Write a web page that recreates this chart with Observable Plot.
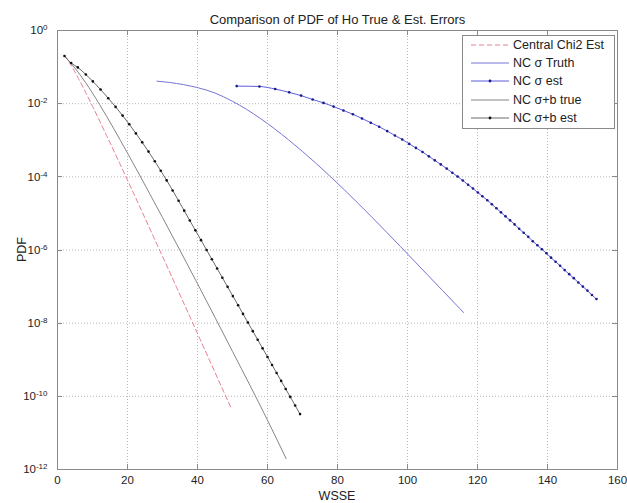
<!DOCTYPE html>
<html><head><meta charset="utf-8">
<script src="https://cdn.jsdelivr.net/npm/d3@7"></script>
<script src="https://cdn.jsdelivr.net/npm/@observablehq/plot@0.6"></script>
<style>
body{margin:0;background:#fff;}
svg{font-family:"Liberation Sans",Arial,sans-serif;}
</style>
</head><body><div id="chart"></div>
<script>
const title = "Comparison of PDF of Ho True & Est. Errors";
const xLabel = "WSSE";
const yLabel = "PDF";
const xTicks = [0, 20, 40, 60, 80, 100, 120, 140, 160];
const yTicks = [1, 1e-2, 1e-4, 1e-6, 1e-8, 1e-10, 1e-12];
const seriesNames = ["Central Chi2 Est", "NC σ Truth", "NC σ est", "NC σ+b true", "NC σ+b est"];

const chi2X = [2, 4, 6, 8, 10, 14, 18, 22, 26, 30, 34, 38, 42, 46, 49.6];
const chi2Pdf = [0.209, 0.108, 0.0486, 0.0207, 8.5e-3, 1.36e-3, 2.09e-4, 3.13e-5, 4.59e-6, 6.70e-7, 9.64e-8, 1.38e-8, 1.96e-9, 2.77e-10, 4.8e-11];

const truthX = [28.4, 32, 36, 40, 45, 50, 54, 58, 62, 66, 70, 74, 78, 82, 86, 90, 94, 98, 102, 106, 110, 114, 116];
const truthPdf = [4.12e-2, 3.80e-2, 3.31e-2, 2.75e-2, 1.95e-2, 1.16e-2, 7.00e-3, 3.92e-3, 2.06e-3, 1.03e-3, 4.93e-4, 2.28e-4, 1.01e-4, 4.38e-5, 1.84e-5, 7.60e-6, 3.08e-6, 1.24e-6, 4.93e-7, 1.96e-7, 7.82e-8, 3.11e-8, 1.96e-8];

const estSigX = [51.2, 57.7, 62.2, 66.2, 69.6, 72.9, 76.0, 78.9, 81.7, 84.4, 87.0, 89.5, 91.9, 94.2, 96.4, 98.5, 100.5, 102.4, 104.3, 106.1, 107.8, 109.5, 111.2, 112.8, 114.3, 115.8, 117.3, 118.7, 120.1, 121.4, 122.8, 124.1, 125.4, 126.7, 128.0, 129.3, 130.6, 131.9, 133.2, 134.5, 135.8, 137.1, 138.4, 139.7, 141.0, 142.3, 143.6, 144.9, 146.2, 147.5, 148.8, 150.1, 151.4, 152.7, 154.0];
const estSigPdf = [3.02e-2, 2.95e-2, 2.51e-2, 2.04e-2, 1.66e-2, 1.30e-2, 1.05e-2, 8.32e-3, 6.53e-3, 5.13e-3, 3.94e-3, 3.02e-3, 2.34e-3, 1.78e-3, 1.35e-3, 1.05e-3, 7.94e-4, 6.17e-4, 4.79e-4, 3.63e-4, 2.82e-4, 2.19e-4, 1.68e-4, 1.29e-4, 1.02e-4, 7.94e-5, 6.10e-5, 4.79e-5, 3.72e-5, 2.95e-5, 2.29e-5, 1.78e-5, 1.38e-5, 1.07e-5, 8.32e-6, 6.46e-6, 5.01e-6, 3.80e-6, 2.95e-6, 2.29e-6, 1.74e-6, 1.35e-6, 1.05e-6, 8.13e-7, 6.17e-7, 4.79e-7, 3.72e-7, 2.82e-7, 2.19e-7, 1.70e-7, 1.29e-7, 1.0e-7, 7.76e-8, 5.89e-8, 4.57e-8];

const sbTrueX = [2, 5, 8, 12, 16, 20, 30, 40, 50, 60, 65.3];
const sbTruePdf = [0.20, 9.33e-2, 3.80e-2, 9.55e-3, 2.13e-3, 4.45e-4, 7.73e-6, 1.20e-7, 1.69e-9, 2.23e-11, 2.0e-12];

const sbEstX = [2, 3.9, 5.8, 8.1, 10.1, 12.3, 14.5, 16.6, 18.6, 20.5, 22.4, 24.2, 26.0, 27.8, 29.5, 31.2, 32.9, 34.6, 36.2, 37.8, 39.4, 41.0, 42.6, 44.1, 45.6, 47.1, 48.6, 50.1, 51.6, 53.0, 54.4, 55.8, 57.2, 58.6, 60.0, 61.3, 62.6, 63.9, 65.2, 66.5, 67.9, 69.3];
const sbEstPdf = [0.20, 0.129, 9.8e-2, 6.27e-2, 4.06e-2, 2.43e-2, 1.41e-2, 8.17e-3, 4.72e-3, 2.73e-3, 1.54e-3, 8.77e-4, 4.89e-4, 2.67e-4, 1.47e-4, 7.98e-5, 4.25e-5, 2.21e-5, 1.19e-5, 6.40e-6, 3.44e-6, 1.86e-6, 1.00e-6, 5.60e-7, 3.13e-7, 1.75e-7, 9.82e-8, 5.50e-8, 3.08e-8, 1.79e-8, 1.04e-8, 6.05e-9, 3.52e-9, 2.05e-9, 1.19e-9, 7.21e-10, 4.36e-10, 2.64e-10, 1.59e-10, 9.64e-11, 5.61e-11, 3.27e-11];

const styles = [
  {line: "#e8818f", dash: "5,3", dot: null},
  {line: "#7474d6", dash: null, dot: null},
  {line: "#5c5cdc", dash: null, dot: "#1a1a8c"},
  {line: "#858585", dash: null, dot: null},
  {line: "#6a6a6a", dash: null, dot: "#111111"}
];

const toRows = (name, xs, ys) => xs.map((x, i) => ({series: name, x, pdf: ys[i]}));
const sets = [
  toRows(seriesNames[0], chi2X, chi2Pdf),
  toRows(seriesNames[1], truthX, truthPdf),
  toRows(seriesNames[2], estSigX, estSigPdf),
  toRows(seriesNames[3], sbTrueX, sbTruePdf),
  toRows(seriesNames[4], sbEstX, sbEstPdf)
];

const W = 627, H = 503;
const M = {top: 30, right: 10, bottom: 34, left: 57};

const marks = [
  Plot.gridX(xTicks, {stroke: "#b8b8b8", strokeOpacity: 1, strokeDasharray: "1,2"}),
  Plot.gridY(yTicks, {stroke: "#b8b8b8", strokeOpacity: 1, strokeDasharray: "1,2"})
];
sets.forEach((rows, i) => {
  const s = styles[i];
  marks.push(Plot.line(rows, {x: "x", y: "pdf", stroke: s.line, strokeWidth: 1, strokeDasharray: s.dash, curve: "monotone-x"}));
  if (s.dot) marks.push(Plot.dot(rows, {x: "x", y: "pdf", r: 1.3, fill: s.dot, stroke: "none"}));
});
marks.push(Plot.frame({stroke: "#8a8a8a"}));
marks.push(Plot.axisX(xTicks, {tickSize: 0, tickPadding: 6, label: null, fontSize: 11.5, fill: "#222"}));
marks.push(Plot.axisY(yTicks, {tickSize: 0, tickPadding: 10, label: null, fontSize: 11.5, fill: "#222",
  tickFormat: d => "10^" + Math.round(Math.log10(d))}));
marks.push(Plot.text([title], {frameAnchor: "top", dy: -16, fontSize: 13, fill: "#222"}));

const svg = Plot.plot({
  width: W, height: H,
  marginTop: M.top, marginRight: M.right, marginBottom: M.bottom, marginLeft: M.left,
  x: {domain: [0, 160]},
  y: {type: "log", domain: [1e-12, 1]},
  style: {fontFamily: "'Liberation Sans', Arial, sans-serif", background: "#fff", overflow: "visible"},
  marks
});
document.getElementById("chart").appendChild(svg);

const sx = svg.scale("x"), sy = svg.scale("y");
const root = d3.select(svg);
const x0 = M.left, x1 = W - M.right, y0 = M.top, y1 = H - M.bottom;

// superscript exponents on y tick labels
root.selectAll('g[aria-label="y-axis tick label"] text').each(function() {
  const t = this.textContent;
  const m = t.match(/^10\^(.*)$/);
  if (m) {
    const s = d3.select(this);
    s.text(null);
    s.append("tspan").text("10");
    s.append("tspan").attr("dy", "-0.5em").attr("font-size", "8px").text(m[1]);
  }
});

// inward ticks on all four sides (MATLAB style)
const tg = root.append("g").attr("stroke", "#8a8a8a").attr("stroke-width", 1);
xTicks.forEach(v => {
  const px = Math.round(sx.apply(v)) + 0.5;
  tg.append("line").attr("x1", px).attr("x2", px).attr("y1", y1).attr("y2", y1 - 5);
  tg.append("line").attr("x1", px).attr("x2", px).attr("y1", y0).attr("y2", y0 + 5);
});
yTicks.forEach(v => {
  const py = Math.round(sy.apply(v)) + 0.5;
  tg.append("line").attr("y1", py).attr("y2", py).attr("x1", x0).attr("x2", x0 + 5);
  tg.append("line").attr("y1", py).attr("y2", py).attr("x1", x1).attr("x2", x1 - 5);
});

// axis labels
root.append("text").attr("x", (x0 + x1) / 2).attr("y", 500).attr("text-anchor", "middle")
  .attr("font-size", 12.5).attr("fill", "#222").text(xLabel);
root.append("text").attr("transform", `translate(26,${(y0 + y1) / 2}) rotate(-90)`)
  .attr("text-anchor", "middle").attr("font-size", 12.5).attr("fill", "#222").text(yLabel);

// legend
const lg = root.append("g").attr("text-anchor", "start");
const lx = 462, ly = 35, lw = 152, lh = 93;
lg.append("rect").attr("x", lx + 0.5).attr("y", ly + 0.5).attr("width", lw).attr("height", lh)
  .attr("fill", "#fff").attr("stroke", "#8a8a8a");
const rowsY = [45, 63, 81, 100, 118];
seriesNames.forEach((name, i) => {
  const s = styles[i];
  const yy = rowsY[i];
  lg.append("line").attr("x1", 471).attr("x2", 509).attr("y1", yy).attr("y2", yy)
    .attr("stroke", s.line).attr("stroke-width", 1).attr("stroke-dasharray", s.dash);
  if (s.dot) lg.append("circle").attr("cx", 490).attr("cy", yy).attr("r", 1.4).attr("fill", s.dot);
  lg.append("text").attr("x", 513).attr("y", yy).attr("dy", "0.35em").attr("font-size", 12.5)
    .attr("text-anchor", "start").attr("fill", "#222").text(name);
});
</script>
</body></html>
